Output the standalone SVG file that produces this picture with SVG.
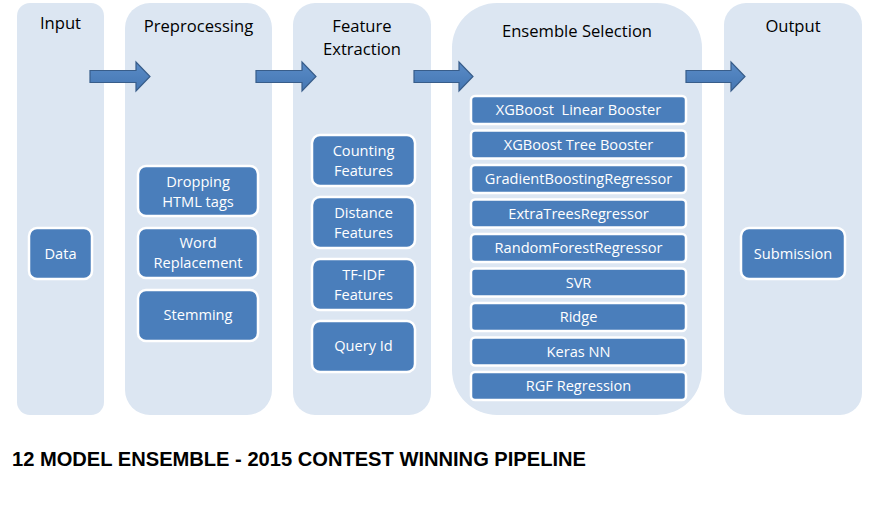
<svg xmlns="http://www.w3.org/2000/svg" width="876" height="520" viewBox="0 0 876 520">
<defs>
<linearGradient id="ag" x1="0" y1="0" x2="0" y2="1">
<stop offset="0" stop-color="#5A8BC6"/>
<stop offset="0.5" stop-color="#4F81BD"/>
<stop offset="1" stop-color="#4576B2"/>
</linearGradient>
<style>
.col{fill:#DCE6F2}
.ttl{font-family:"Open Sans","Noto Sans",sans-serif;font-size:16.6px;fill:#000;text-anchor:middle}
.box{fill:#4A7EBB;stroke:#FFFFFF;stroke-width:2.5}
.bt{font-family:"Open Sans","Noto Sans",sans-serif;font-size:14.6px;fill:#FFFFFF;text-anchor:middle;white-space:pre}
.arr{fill:url(#ag);stroke:#385D8A;stroke-width:1.2}
.cap{font-family:"Liberation Sans",Arial,sans-serif;font-size:20px;font-weight:bold;fill:#000}
</style>
</defs>
<rect width="876" height="520" fill="#FFFFFF"/>

<g id="input">
<rect class="col" x="17" y="3" width="87" height="412" rx="13"/>
<text class="ttl" x="60.5" y="29">Input</text>
</g>
<g id="preprocessing">
<rect class="col" x="125" y="3" width="147" height="412" rx="25"/>
<text class="ttl" x="198.5" y="32">Preprocessing</text>
</g>
<g id="feature-extraction">
<rect class="col" x="293" y="3" width="138" height="412" rx="22"/>
<text class="ttl" x="362" y="32">Feature</text>
<text class="ttl" x="362" y="55">Extraction</text>
</g>
<g id="ensemble-selection">
<rect class="col" x="452" y="3" width="250" height="412" rx="45"/>
<text class="ttl" x="577" y="37">Ensemble Selection</text>
</g>
<g id="output">
<rect class="col" x="724" y="3" width="138" height="412" rx="22"/>
<text class="ttl" x="793" y="32">Output</text>
</g>

<g id="connectors">
<path class="arr" d="M90,70.5 H136 V62 L150,76.5 L136,91 V82.5 H90 Z"/>
<path class="arr" d="M256,70.5 H302 V62 L316,76.5 L302,91 V82.5 H256 Z"/>
<path class="arr" d="M414,70.5 H459 V62 L473,76.5 L459,91 V82.5 H414 Z"/>
<path class="arr" d="M686,70.5 H731 V62 L745,76.5 L731,91 V82.5 H686 Z"/>
</g>

<g id="data">
<rect class="box" x="29" y="228" width="63" height="51" rx="8"/>
<text class="bt" x="60.5" y="259">Data</text>
</g>

<g id="dropping-html">
<rect class="box" x="138" y="166" width="120" height="50" rx="8"/>
<text class="bt" x="198" y="187">Dropping</text>
<text class="bt" x="198" y="207">HTML tags</text>
</g>
<g id="word-replacement">
<rect class="box" x="138" y="228" width="120" height="50" rx="8"/>
<text class="bt" x="198" y="248">Word</text>
<text class="bt" x="198" y="268">Replacement</text>
</g>
<g id="stemming">
<rect class="box" x="138" y="290" width="120" height="51" rx="8"/>
<text class="bt" x="198" y="320">Stemming</text>
</g>

<g id="counting-features">
<rect class="box" x="312" y="135" width="103" height="51" rx="8"/>
<text class="bt" x="363.5" y="156">Counting</text>
<text class="bt" x="363.5" y="176">Features</text>
</g>
<g id="distance-features">
<rect class="box" x="312" y="197" width="103" height="51" rx="8"/>
<text class="bt" x="363.5" y="218">Distance</text>
<text class="bt" x="363.5" y="238">Features</text>
</g>
<g id="tfidf-features">
<rect class="box" x="312" y="259" width="103" height="51" rx="8"/>
<text class="bt" x="363.5" y="280">TF-IDF</text>
<text class="bt" x="363.5" y="300">Features</text>
</g>
<g id="query-id">
<rect class="box" x="312" y="321" width="103" height="51" rx="8"/>
<text class="bt" x="363.5" y="351">Query Id</text>
</g>

<g id="xgb-linear">
<rect class="box" x="471" y="96" width="215" height="28" rx="4"/>
<text class="bt" x="578.5" y="115">XGBoost  Linear Booster</text>
</g>
<g id="xgb-tree">
<rect class="box" x="471" y="130.5" width="215" height="28" rx="4"/>
<text class="bt" x="578.5" y="149.5">XGBoost Tree Booster</text>
</g>
<g id="gbr">
<rect class="box" x="471" y="165" width="215" height="28" rx="4"/>
<text class="bt" x="578.5" y="184">GradientBoostingRegressor</text>
</g>
<g id="etr">
<rect class="box" x="471" y="199.5" width="215" height="28" rx="4"/>
<text class="bt" x="578.5" y="218.5">ExtraTreesRegressor</text>
</g>
<g id="rfr">
<rect class="box" x="471" y="234" width="215" height="28" rx="4"/>
<text class="bt" x="578.5" y="253">RandomForestRegressor</text>
</g>
<g id="svr">
<rect class="box" x="471" y="268.5" width="215" height="28" rx="4"/>
<text class="bt" x="578.5" y="287.5">SVR</text>
</g>
<g id="ridge">
<rect class="box" x="471" y="303" width="215" height="28" rx="4"/>
<text class="bt" x="578.5" y="322">Ridge</text>
</g>
<g id="keras-nn">
<rect class="box" x="471" y="337.5" width="215" height="28" rx="4"/>
<text class="bt" x="578.5" y="356.5">Keras NN</text>
</g>
<g id="rgf">
<rect class="box" x="471" y="372" width="215" height="28" rx="4"/>
<text class="bt" x="578.5" y="391">RGF Regression</text>
</g>

<g id="submission">
<rect class="box" x="741" y="228" width="104" height="51" rx="8"/>
<text class="bt" x="793" y="258.5">Submission</text>
</g>

<text class="cap" x="12" y="466" textLength="574" lengthAdjust="spacingAndGlyphs">12 MODEL ENSEMBLE - 2015 CONTEST WINNING PIPELINE</text>
</svg>
